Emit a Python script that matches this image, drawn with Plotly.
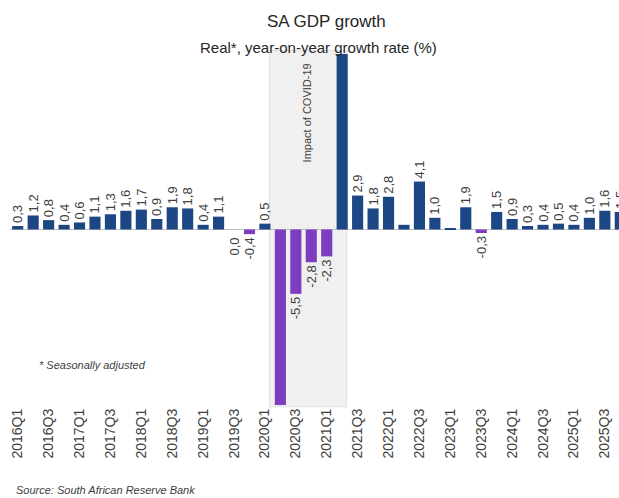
import plotly.graph_objects as go

quarters = [f"{y}Q{q}" for y in range(2016, 2026) for q in range(1, 5)]
growth = [0.3, 1.2, 0.8, 0.4,
          0.6, 1.1, 1.3, 1.6,
          1.7, 0.9, 1.9, 1.8,
          0.4, 1.1, 0.0, -0.4,
          0.5, -16.9, -5.5, -2.8,
          -2.3, 19.3, 2.9, 1.8,
          2.8, 0.4, 4.1, 1.0,
          0.1, 1.9, -0.3, 1.5,
          0.9, 0.3, 0.4, 0.5,
          0.4, 1.0, 1.6, 1.5]
unlabelled = ["2020Q2", "2021Q2", "2022Q2", "2023Q1"]
tick_labels = quarters[::2]

BLUE = "#1D4784"
PURPLE = "#7D3DBE"
TXT = "#404040"
colors = [BLUE if v >= 0 else PURPLE for v in growth]

def fmt(v):
    return f"{v:.1f}".replace(".", ",")

# zero-valued bars get their label via an annotation below the axis
texts = ["" if (q in unlabelled or v == 0) else fmt(v) for q, v in zip(quarters, growth)]

# figure is slightly wider than the 619px window so the last bar is cut at the edge
W, H = 634, 498
PLOT_TOP, PLOT_BOTTOM = 54, 405
PLOT_LEFT = 10
PH = PLOT_BOTTOM - PLOT_TOP
PW = W - PLOT_LEFT
PX_PER_Q = 15.45

def py(px):
    return (PLOT_BOTTOM - px) / PH

def pxx(px):
    return (px - PLOT_LEFT) / PW

fig = go.Figure()
fig.add_trace(go.Bar(
    x=quarters, y=growth,
    marker=dict(color=colors, line=dict(width=0)),
    text=texts, textposition="outside", textangle=-90, constraintext="none",
    textfont=dict(family="Liberation Sans, Arial, sans-serif", size=13, color=TXT),
    cliponaxis=True, hoverinfo="skip",
))

for q, v in zip(quarters, growth):
    if v == 0 and q not in unlabelled:
        fig.add_annotation(x=q, y=v, xref="x", yref="y", text=fmt(v), textangle=-90,
                           showarrow=False, yanchor="top", yshift=-6,
                           font=dict(family="Liberation Sans, Arial, sans-serif", size=13, color=TXT))

# COVID shaded region
fig.add_shape(type="rect", xref="x", yref="paper",
              x0=16.3, x1=21.3, y0=-0.005, y1=1.01,
              fillcolor="rgba(228,228,228,0.55)", line=dict(color="#E0E0E0", width=1),
              layer="below")
fig.add_annotation(x=18.75, xref="x", y=py(113), yref="paper", text="Impact of COVID-19",
                   textangle=-90, showarrow=False, xanchor="center", yanchor="middle",
                   font=dict(family="Liberation Sans, Arial, sans-serif", size=11, color=TXT))

# titles
fig.add_annotation(x=pxx(326), xref="paper", y=py(22), yref="paper", text="SA GDP growth",
                   showarrow=False, xanchor="center", yanchor="middle",
                   font=dict(family="Liberation Sans Narrow, Liberation Sans, Arial", size=17, color="#262626"))
fig.add_annotation(x=pxx(318), xref="paper", y=py(47), yref="paper",
                   text="Real*, year-on-year growth rate (%)",
                   showarrow=False, xanchor="center", yanchor="middle",
                   font=dict(family="Liberation Sans Narrow, Liberation Sans, Arial", size=15, color="#262626"))

fig.add_annotation(x=pxx(37), xref="paper", y=py(365), yref="paper",
                   text="<i>* Seasonally adjusted</i>", showarrow=False, xanchor="left", yanchor="middle",
                   font=dict(family="Liberation Sans Narrow, Liberation Sans, Arial", size=11, color=TXT))
fig.add_annotation(x=pxx(14), xref="paper", y=py(490), yref="paper",
                   text="<i>Source: South African Reserve Bank</i>", showarrow=False, xanchor="left", yanchor="middle",
                   font=dict(family="Liberation Sans Narrow, Liberation Sans, Arial", size=11, color=TXT))

fig.update_layout(
    width=W, height=H,
    margin=dict(l=PLOT_LEFT, r=0, t=PLOT_TOP, b=H - PLOT_BOTTOM, autoexpand=False),
    paper_bgcolor="white", plot_bgcolor="white",
    separators=", ",
    bargap=0.28,
    showlegend=False,
    xaxis=dict(
        type="category", range=[-0.5, -0.5 + PW / PX_PER_Q], automargin=False,
        tickmode="array", tickvals=tick_labels, ticktext=tick_labels,
        ticklabeloverflow="allow",
        tickangle=-90, ticks="", showgrid=False, showline=False, zeroline=False,
        tickfont=dict(family="Liberation Sans, Arial, sans-serif", size=14, color=TXT),
    ),
    yaxis=dict(
        range=[-15, 15], visible=True, showticklabels=False, ticks="", automargin=False,
        showgrid=False, zeroline=True, zerolinecolor="#BFBFBF", zerolinewidth=1, showline=False,
    ),
)

fig.write_html("out.html", config={"displayModeBar": False},
               post_script="document.body.style.margin='0';document.body.style.overflow='hidden';")
